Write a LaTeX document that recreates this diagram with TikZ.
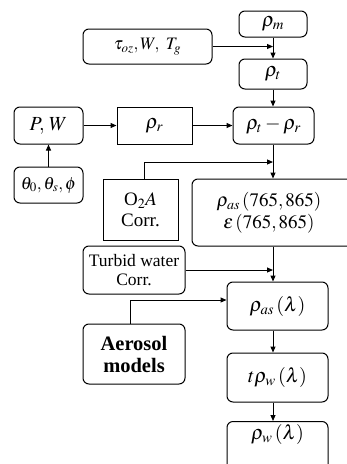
\documentclass[tikz,border=0pt]{standalone}
\usepackage{mathptmx}
\usepackage{fontspec}
\setmainfont{Liberation Serif}
\usetikzlibrary{arrows.meta}
\tikzset{
  box/.style={draw, line width=1pt, rounded corners=6pt, inner sep=0pt, align=center, font=\fontsize{17.5}{19}\selectfont},
  sqbox/.style={box, rounded corners=0pt},
  arr/.style={line width=1pt, -{Triangle[length=6pt,width=5pt]}},
  big/.style={font=\fontsize{20}{22}\selectfont}
}
\begin{document}
\begin{tikzpicture}[x=1pt,y=-1pt]
\path[use as bounding box, clip] (0,0) rectangle (347,464);
\fill[white] (0,0) rectangle (347,464);
\node[box, big, minimum width=68pt, minimum height=26pt] (rm) at (273,24) {$\rho_m$};
\node[box, minimum width=129pt, minimum height=35pt] (tau) at (147.5,46.5) {$\tau_{oz}, W,\ T_g$};
\node[box, big, minimum width=68pt, minimum height=30pt] (rt) at (273,74) {$\rho_t$};
\node[box, big, minimum width=69pt, minimum height=37pt] (pw) at (48.5,125.5) {$P,\, W$};
\node[sqbox, big, minimum width=75pt, minimum height=37pt] (rr) at (154.5,125.5) {$\rho_r$};
\node[box, big, minimum width=81pt, minimum height=37pt] (diff) at (273.5,125.5) {$\rho_t - \rho_r$};
\node[box, minimum width=69pt, minimum height=36pt] (theta) at (48.5,185) {$\theta_0 ,\theta_s ,\phi$};
\node[sqbox, minimum width=75pt, minimum height=61pt, font=\fontsize{19}{21}\selectfont] (o2a) at (140.5,209.5) {O$_2$$A$\\Corr.};
\node[box, minimum width=175pt, minimum height=67pt, font=\fontsize{19}{22}\selectfont] (ras) at (279.5,212.5) {\hspace{-21pt}$\rho_{as}\left(765, 865\right)$\\\hspace{-21pt}$\varepsilon\left(765, 865\right)$};
\node[box, minimum width=102pt, minimum height=48pt] (turbid) at (134,270) {Turbid water\\Corr.};
\node[box, big, minimum width=101pt, minimum height=48pt] (raslam) at (277.5,306) {$\rho_{as}\left(\lambda\right)$};
\node[box, minimum width=102pt, minimum height=60pt, font=\fontsize{20.5}{22}\bfseries\selectfont] (aer) at (134,354) {Aerosol\\models};
\node[box, big, minimum width=101pt, minimum height=49pt] (trw) at (277.5,377.5) {$t\rho_w\left(\lambda\right)$};
\node[box, big, minimum width=101pt, minimum height=60pt, anchor=north] (rw) at (277.5,421) {$\rho_w\left(\lambda\right)$\\[18pt]};
\coordinate (tauend) at (273,46.5);
\coordinate (o2aend) at (273,162);
\draw[arr] (tau.east) -- (tauend);
\draw[arr] (rm.south) -- (rt.north);
\draw[arr] (rt.south) -- (diff.north -| rt.south);
\draw[arr] (pw.east) -- (rr.west);
\draw[arr] (rr.east) -- (diff.west);
\draw[arr] (theta.north) -- (pw.south);
\draw[arr] (diff.south -| rt.south) -- (ras.north -| rt.south);
\draw[arr] ([xshift=3.5pt]o2a.north) |- (o2aend);
\draw[arr] (ras.south -| rt.south) -- (raslam.north -| rt.south);
\draw[arr] (turbid.east) -- (turbid.east -| rt.south);
\draw[arr] ([xshift=-4pt]aer.north) |- ([yshift=6pt]raslam.west);
\draw[arr] (raslam.south -| rt.south) -- (trw.north -| rt.south);
\draw[arr] (trw.south -| rt.south) -- (rw.north -| rt.south);
\end{tikzpicture}
\end{document}
